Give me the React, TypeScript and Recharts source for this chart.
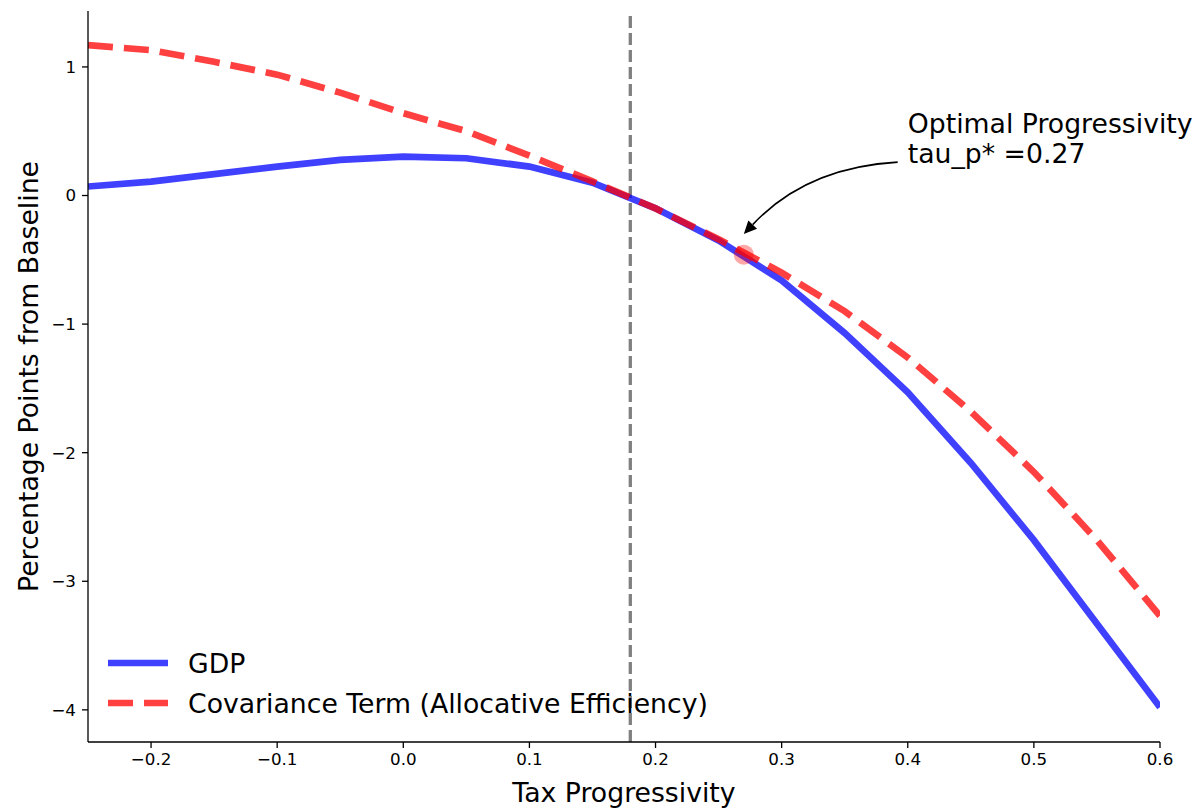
import { LineChart, Line, XAxis, YAxis, ReferenceLine, ReferenceDot, Legend } from "recharts";

// values, step of 0.05 in tax progressivity
const taxProgressivity = [-0.25, -0.2, -0.15, -0.1, -0.05, 0, 0.05, 0.1, 0.15, 0.2, 0.25, 0.3, 0.35, 0.4, 0.45, 0.5, 0.55, 0.6];
const gdpChange = [0.07, 0.108, 0.166, 0.225, 0.277, 0.303, 0.29, 0.225, 0.1, -0.1, -0.35, -0.66, -1.07, -1.53, -2.08, -2.68, -3.33, -3.98];
const covarianceTerm = [1.17, 1.13, 1.04, 0.94, 0.8, 0.64, 0.5, 0.31, 0.11, -0.1, -0.34, -0.6, -0.9, -1.26, -1.68, -2.15, -2.68, -3.27];

const xTicks = [-0.2, -0.1, 0, 0.1, 0.2, 0.3, 0.4, 0.5, 0.6];
const yTicks = [-4, -3, -2, -1, 0, 1];

const baselineTau = 0.18;
const optimalTau = 0.27;
const optimalValue = -0.46;
const annotationLines = ["Optimal Progressivity", "tau_p* =0.27"];
const annotationAt = { x: 0.4, y: 0.49 };
const arrowFrom = { x: 0.392, y: 0.26 };
const arrowTo = { x: 0.27, y: -0.3 };
const seriesOrder = ["gdp", "cov"];

const rows = taxProgressivity.map((x, i) => ({ x, gdp: gdpChange[i], cov: covarianceTerm[i] }));

const FONT = "DejaVu Sans";
const minus = (s: string) => s.replace("-", "\u2212");

const CurvedArrow = (props: any) => {
  const { x1, y1, x2, y2 } = props;
  // arc3-like bend
  const rad = 0.2;
  const mx = (x1 + x2) / 2, my = (y1 + y2) / 2;
  const dx = x2 - x1, dy = y2 - y1;
  const cx = mx - rad * dy, cy = my + rad * dx;
  const len = Math.hypot(x2 - cx, y2 - cy);
  const ux = (x2 - cx) / len, uy = (y2 - cy) / len;
  const head = 13, half = 6;
  const bx = x2 - ux * head, by = y2 - uy * head;
  return (
    <g>
      <path d={`M${x1},${y1} Q${cx},${cy} ${bx},${by}`} fill="none" stroke="#000" strokeWidth={1.6} />
      <polygon
        points={`${x2},${y2} ${bx - uy * half},${by + ux * half} ${bx + uy * half},${by - ux * half}`}
        fill="#000"
      />
    </g>
  );
};

const AnnotationText = (props: any) => {
  const { cx, cy } = props;
  return (
    <text x={cx} y={cy} fontSize={26.7} fontFamily={FONT} fill="#000">
      {annotationLines.map((t, i) => (
        <tspan key={t} x={cx} dy={i === 0 ? 0 : 30}>{t}</tspan>
      ))}
    </text>
  );
};

const LegendContent = ({ payload }: any) => {
  const items = [...(payload || [])].sort(
    (a: any, b: any) => seriesOrder.indexOf(a.dataKey) - seriesOrder.indexOf(b.dataKey)
  );
  return (
    <svg width={660} height={80}>
      {items.map((p: any, i: number) => (
        <g key={p.value} transform={`translate(0, ${i * 40})`}>
          <line
            x1={8} x2={68} y1={18} y2={18}
            stroke={p.color} strokeOpacity={0.75} strokeWidth={6.7}
            strokeDasharray={p.dataKey === "cov" ? "25 11" : undefined}
          />
          <text x={88} y={18} dy="0.36em" fontSize={26.7} fontFamily={FONT} fill="#000">{p.value}</text>
        </g>
      ))}
    </svg>
  );
};

const YLabel = ({ viewBox }: any) => {
  const x = viewBox.x + 28;
  const y = viewBox.y + viewBox.height / 2;
  return (
    <text x={x} y={y} transform={`rotate(-90, ${x}, ${y})`} textAnchor="middle" dominantBaseline="central"
      fontSize={26.7} fontFamily={FONT} fill="#000">
      Percentage Points from Baseline
    </text>
  );
};

export default function App() {
  return (
    <div style={{ position: "absolute", left: 0, top: 0, background: "#fff" }}>
      <LineChart width={1203} height={809} data={rows} margin={{ top: 11, right: 43, bottom: 0, left: 0 }}
        style={{ fontFamily: FONT }}>
        <XAxis
          dataKey="x" type="number" domain={[-0.25, 0.6]} ticks={xTicks} allowDataOverflow
          height={67} tickSize={6} tickMargin={5}
          axisLine={{ stroke: "#000", strokeWidth: 1.3 }} tickLine={{ stroke: "#000", strokeWidth: 1.3 }}
          tick={{ fill: "#000", fontSize: 16.7, fontFamily: FONT }}
          tickFormatter={(v: number) => minus(v.toFixed(1))}
          label={{ value: "Tax Progressivity", position: "insideBottom", offset: 7, fontSize: 26.7, fill: "#000", fontFamily: FONT }}
        />
        <YAxis
          type="number" domain={[-4.25, 1.435]} ticks={yTicks} allowDataOverflow
          width={88} tickSize={6} tickMargin={6}
          axisLine={{ stroke: "#000", strokeWidth: 1.3 }} tickLine={{ stroke: "#000", strokeWidth: 1.3 }}
          tick={{ fill: "#000", fontSize: 16.7, fontFamily: FONT }}
          tickFormatter={(v: number) => minus(String(v))}
          label={<YLabel />}
        />
        <ReferenceLine x={baselineTau} stroke="#808080" strokeWidth={3.3} strokeDasharray="12 5" />
        <Line dataKey="gdp" name="GDP" type="linear" stroke="#0000ff" strokeOpacity={0.75} strokeWidth={6.7}
          dot={false} activeDot={false} isAnimationActive={false} />
        <Line dataKey="cov" name="Covariance Term (Allocative Efficiency)" type="linear" stroke="#ff0000"
          strokeOpacity={0.75} strokeWidth={6.7} strokeDasharray="25 11"
          dot={false} activeDot={false} isAnimationActive={false} />
        <ReferenceDot x={optimalTau} y={optimalValue} r={10} fill="#ff0000" fillOpacity={0.35} stroke="none" />
        <ReferenceLine segment={[arrowFrom, arrowTo]} shape={CurvedArrow} />
        <ReferenceDot x={annotationAt.x} y={annotationAt.y} shape={AnnotationText} />
        <Legend
          layout="horizontal" verticalAlign="middle" align="center"
          content={<LegendContent />}
          wrapperStyle={{ left: 100, top: 645, width: 660, height: 80, bottom: "auto" }}
        />
      </LineChart>
    </div>
  );
}
